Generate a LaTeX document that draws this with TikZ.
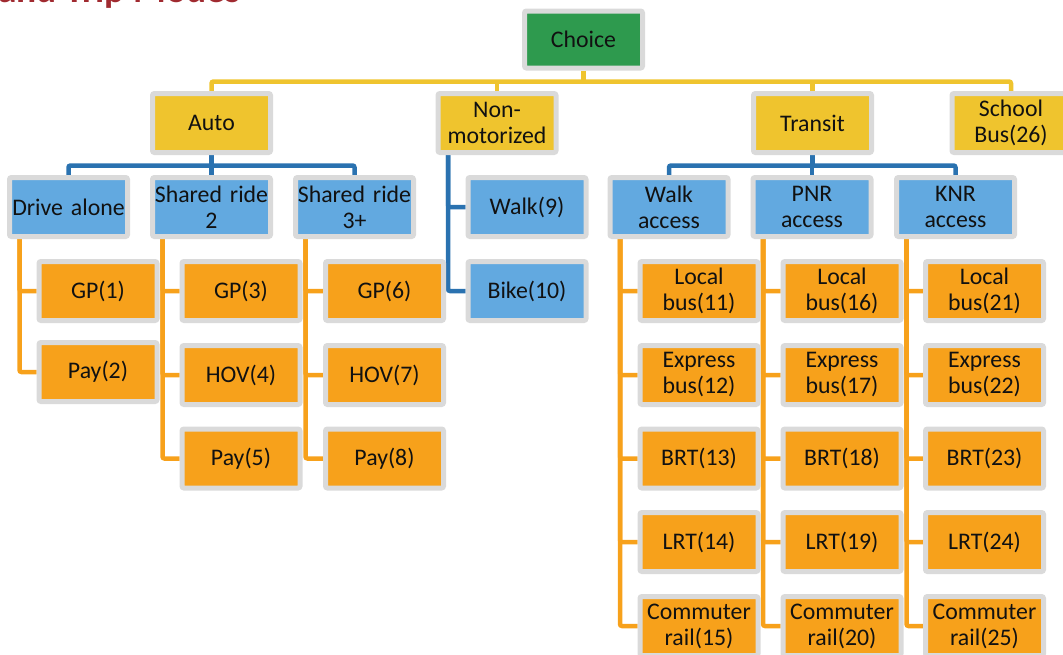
\documentclass[tikz,border=0pt]{standalone}
\usepackage{fontspec}
\setmainfont{Carlito}
\usetikzlibrary{backgrounds,calc}
\definecolor{cgreen}{HTML}{2E9A4E}
\definecolor{cyellow}{HTML}{EFC42E}
\definecolor{cblue}{HTML}{62A9E0}
\definecolor{corange}{HTML}{F7A11B}
\definecolor{cbline}{HTML}{2A72B0}
\definecolor{boxgray}{HTML}{DADADA}
\definecolor{txt}{HTML}{111111}
\definecolor{ctitle}{HTML}{A02A30}
\begin{document}
\begin{tikzpicture}[x=1pt,y=-1pt,
  box/.style={draw=boxgray, line width=5pt, rounded corners=2pt, inner sep=0pt,
    text width=118pt, align=center, minimum height=59pt,
    font=\fontsize{23.8}{26}\selectfont, text=txt},
  lvlzero/.style={box, fill=cgreen, minimum height=57pt},
  lvlone/.style={box, fill=cyellow},
  lvltwo/.style={box, fill=cblue},
  lvlthree/.style={box, fill=corange},
  yl/.style={draw=cyellow, line width=4.5pt, rounded corners=2pt},
  bl/.style={draw=cbline, line width=4.5pt, rounded corners=2pt},
  ol/.style={draw=corange, line width=4.5pt, rounded corners=2pt}]
\useasboundingbox (0,0) rectangle (1063,654);
\clip (0,0) rectangle (1063,654);

% title (cut off at the top, as in the reference)
\node[anchor=base west, inner sep=0pt, text=ctitle, font=\bfseries\fontsize{37.5}{40}\selectfont] (title) at (-2,2) {and Trip Modes};

% level 0
\node[lvlzero] (choice) at (583.5,39.5) {Choice};

% level 1
\node[lvlone] (auto) at (211.5,123) {Auto};
\node[lvlone] (nonmot) at (497,123) {Non-\\motorized};
\node[lvlone] (transit) at (812.5,123) {Transit};
\node[lvlone] (sch) at (1011,123) {School\\Bus(26)};

% level 2
\node[lvltwo] (da) at (68.5,207) {Drive alone};
\node[lvltwo] (sr2) at (211.5,207) {Shared ride\\2};
\node[lvltwo] (sr3) at (354.5,207) {Shared ride\\3+};
\node[lvltwo] (walk) at (527,207) {Walk(9)};
\node[lvltwo] (bike) at (527,291) {Bike(10)};
\node[lvltwo] (wa) at (669,207) {Walk\\access};
\node[lvltwo] (pnr) at (812,207) {PNR\\access};
\node[lvltwo] (knr) at (955.5,207) {KNR\\access};

% level 3 - auto
\node[lvlthree] (gp1) at (98,291) {GP(1)};
\node[lvlthree] (pay2) at (98,372) {Pay(2)};
\node[lvlthree] (gp3) at (241,291) {GP(3)};
\node[lvlthree] (hov4) at (241,375) {HOV(4)};
\node[lvlthree] (pay5) at (241,458.5) {Pay(5)};
\node[lvlthree] (gp6) at (384.5,291) {GP(6)};
\node[lvlthree] (hov7) at (384.5,375) {HOV(7)};
\node[lvlthree] (pay8) at (384.5,458.5) {Pay(8)};

% level 3 - transit
\node[lvlthree] (lb11) at (699,291) {Local\\bus(11)};
\node[lvlthree] (eb12) at (699,375) {Express\\bus(12)};
\node[lvlthree] (brt13) at (699,458.5) {BRT(13)};
\node[lvlthree] (lrt14) at (699,542) {LRT(14)};
\node[lvlthree] (cr15) at (699,626) {Commuter\\rail(15)};
\node[lvlthree] (lb16) at (842,291) {Local\\bus(16)};
\node[lvlthree] (eb17) at (842,375) {Express\\bus(17)};
\node[lvlthree] (brt18) at (842,458.5) {BRT(18)};
\node[lvlthree] (lrt19) at (842,542) {LRT(19)};
\node[lvlthree] (cr20) at (842,626) {Commuter\\rail(20)};
\node[lvlthree] (lb21) at (984.5,291) {Local\\bus(21)};
\node[lvlthree] (eb22) at (984.5,375) {Express\\bus(22)};
\node[lvlthree] (brt23) at (984.5,458.5) {BRT(23)};
\node[lvlthree] (lrt24) at (984.5,542) {LRT(24)};
\node[lvlthree] (cr25) at (984.5,626) {Commuter\\rail(25)};

\coordinate (ybus) at (0,81.5);
\coordinate (bbus) at (0,165.5);

\begin{scope}[on background layer]
  % yellow
  \draw[yl] (choice.south) -- (choice.south |- ybus);
  \draw[yl] (auto.north) -- (auto.north |- ybus) -- (sch.north |- ybus) -- (sch.north);
  \draw[yl] (nonmot.north) -- (nonmot.north |- ybus);
  \draw[yl] (transit.north) -- (transit.north |- ybus);
  % blue
  \draw[bl] (auto.south) -- (auto.south |- bbus);
  \draw[bl] (da.north) -- (da.north |- bbus) -- (sr3.north |- bbus) -- (sr3.north);
  \draw[bl] (sr2.north) -- (sr2.north |- bbus);
  \draw[bl] (transit.south) -- (transit.south |- bbus);
  \draw[bl] (wa.north) -- (wa.north |- bbus) -- (knr.north |- bbus) -- (knr.north);
  \draw[bl] (pnr.north) -- (pnr.north |- bbus);
  \foreach \c in {walk,bike}
    \draw[bl] ($(nonmot.south west)+(12.5,0)$) |- (\c.west);
  % orange
  \foreach \p/\cs in {da/{gp1,pay2}, sr2/{gp3,hov4,pay5}, sr3/{gp6,hov7,pay8},
      wa/{lb11,eb12,brt13,lrt14,cr15}, pnr/{lb16,eb17,brt18,lrt19,cr20},
      knr/{lb21,eb22,brt23,lrt24,cr25}}
    \foreach \c in \cs
      \draw[ol] ($(\p.south west)+(12.5,0)$) |- (\c.west);
\end{scope}
\end{tikzpicture}
\end{document}
